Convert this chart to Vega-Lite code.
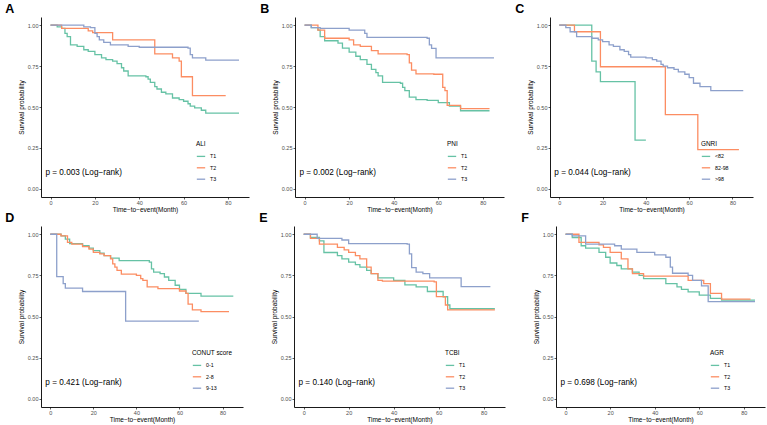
{
  "$schema": "https://vega.github.io/schema/vega-lite/v6.json",
  "description": "Kaplan-Meier curves for six nutrition scores, panels A to F.",
  "padding": {"left": 5, "top": 2, "right": 2, "bottom": 2},
  "data": {
    "values": [
      {"p": "A", "g": "T1", "t": 0, "s": 1}, {"p": "A", "g": "T1", "t": 3, "s": 0.99}, {"p": "A", "g": "T1", "t": 5, "s": 0.98}, {"p": "A", "g": "T1", "t": 6.5, "s": 0.95},
      {"p": "A", "g": "T1", "t": 7.5, "s": 0.93}, {"p": "A", "g": "T1", "t": 9, "s": 0.88}, {"p": "A", "g": "T1", "t": 12, "s": 0.87}, {"p": "A", "g": "T1", "t": 15, "s": 0.85},
      {"p": "A", "g": "T1", "t": 17, "s": 0.84}, {"p": "A", "g": "T1", "t": 20, "s": 0.82}, {"p": "A", "g": "T1", "t": 23, "s": 0.8}, {"p": "A", "g": "T1", "t": 25, "s": 0.79},
      {"p": "A", "g": "T1", "t": 28, "s": 0.78}, {"p": "A", "g": "T1", "t": 30, "s": 0.765}, {"p": "A", "g": "T1", "t": 32, "s": 0.74}, {"p": "A", "g": "T1", "t": 33, "s": 0.72},
      {"p": "A", "g": "T1", "t": 35, "s": 0.69}, {"p": "A", "g": "T1", "t": 43, "s": 0.685}, {"p": "A", "g": "T1", "t": 44, "s": 0.67}, {"p": "A", "g": "T1", "t": 45, "s": 0.65},
      {"p": "A", "g": "T1", "t": 47, "s": 0.625}, {"p": "A", "g": "T1", "t": 48, "s": 0.61}, {"p": "A", "g": "T1", "t": 50, "s": 0.59}, {"p": "A", "g": "T1", "t": 52, "s": 0.58},
      {"p": "A", "g": "T1", "t": 55, "s": 0.555}, {"p": "A", "g": "T1", "t": 58, "s": 0.545}, {"p": "A", "g": "T1", "t": 60, "s": 0.535}, {"p": "A", "g": "T1", "t": 62, "s": 0.52},
      {"p": "A", "g": "T1", "t": 63, "s": 0.505}, {"p": "A", "g": "T1", "t": 65, "s": 0.495}, {"p": "A", "g": "T1", "t": 68, "s": 0.48}, {"p": "A", "g": "T1", "t": 70, "s": 0.463},
      {"p": "A", "g": "T1", "t": 85, "s": 0.463},
      {"p": "A", "g": "T2", "t": 0, "s": 1}, {"p": "A", "g": "T2", "t": 5, "s": 0.98}, {"p": "A", "g": "T2", "t": 17, "s": 0.965}, {"p": "A", "g": "T2", "t": 19, "s": 0.955},
      {"p": "A", "g": "T2", "t": 28, "s": 0.91}, {"p": "A", "g": "T2", "t": 47, "s": 0.825}, {"p": "A", "g": "T2", "t": 55, "s": 0.8}, {"p": "A", "g": "T2", "t": 58, "s": 0.78},
      {"p": "A", "g": "T2", "t": 59, "s": 0.685}, {"p": "A", "g": "T2", "t": 64, "s": 0.57}, {"p": "A", "g": "T2", "t": 79, "s": 0.57},
      {"p": "A", "g": "T3", "t": 0, "s": 1}, {"p": "A", "g": "T3", "t": 15, "s": 0.99}, {"p": "A", "g": "T3", "t": 18, "s": 0.985}, {"p": "A", "g": "T3", "t": 20, "s": 0.95},
      {"p": "A", "g": "T3", "t": 21, "s": 0.93}, {"p": "A", "g": "T3", "t": 22, "s": 0.91}, {"p": "A", "g": "T3", "t": 24, "s": 0.895}, {"p": "A", "g": "T3", "t": 27, "s": 0.88},
      {"p": "A", "g": "T3", "t": 35, "s": 0.87}, {"p": "A", "g": "T3", "t": 40, "s": 0.865}, {"p": "A", "g": "T3", "t": 62, "s": 0.86}, {"p": "A", "g": "T3", "t": 63, "s": 0.82},
      {"p": "A", "g": "T3", "t": 64, "s": 0.8}, {"p": "A", "g": "T3", "t": 70, "s": 0.787}, {"p": "A", "g": "T3", "t": 85, "s": 0.787},

      {"p": "B", "g": "T1", "t": 0, "s": 1}, {"p": "B", "g": "T1", "t": 3, "s": 0.985}, {"p": "B", "g": "T1", "t": 6, "s": 0.97}, {"p": "B", "g": "T1", "t": 7, "s": 0.93},
      {"p": "B", "g": "T1", "t": 9, "s": 0.905}, {"p": "B", "g": "T1", "t": 15, "s": 0.89}, {"p": "B", "g": "T1", "t": 17, "s": 0.86}, {"p": "B", "g": "T1", "t": 20, "s": 0.835},
      {"p": "B", "g": "T1", "t": 23, "s": 0.81}, {"p": "B", "g": "T1", "t": 25, "s": 0.79}, {"p": "B", "g": "T1", "t": 28, "s": 0.76}, {"p": "B", "g": "T1", "t": 30, "s": 0.73},
      {"p": "B", "g": "T1", "t": 32, "s": 0.71}, {"p": "B", "g": "T1", "t": 33, "s": 0.69}, {"p": "B", "g": "T1", "t": 35, "s": 0.65}, {"p": "B", "g": "T1", "t": 43, "s": 0.645},
      {"p": "B", "g": "T1", "t": 44, "s": 0.62}, {"p": "B", "g": "T1", "t": 45, "s": 0.6}, {"p": "B", "g": "T1", "t": 47, "s": 0.56}, {"p": "B", "g": "T1", "t": 50, "s": 0.545},
      {"p": "B", "g": "T1", "t": 55, "s": 0.54}, {"p": "B", "g": "T1", "t": 60, "s": 0.527}, {"p": "B", "g": "T1", "t": 65, "s": 0.505}, {"p": "B", "g": "T1", "t": 70, "s": 0.477},
      {"p": "B", "g": "T1", "t": 83, "s": 0.477},
      {"p": "B", "g": "T2", "t": 0, "s": 1}, {"p": "B", "g": "T2", "t": 6, "s": 0.97}, {"p": "B", "g": "T2", "t": 9, "s": 0.92}, {"p": "B", "g": "T2", "t": 20, "s": 0.91},
      {"p": "B", "g": "T2", "t": 22, "s": 0.88}, {"p": "B", "g": "T2", "t": 25, "s": 0.87}, {"p": "B", "g": "T2", "t": 30, "s": 0.845}, {"p": "B", "g": "T2", "t": 33, "s": 0.825},
      {"p": "B", "g": "T2", "t": 46, "s": 0.82}, {"p": "B", "g": "T2", "t": 47, "s": 0.77}, {"p": "B", "g": "T2", "t": 48, "s": 0.725}, {"p": "B", "g": "T2", "t": 50, "s": 0.703},
      {"p": "B", "g": "T2", "t": 58, "s": 0.7}, {"p": "B", "g": "T2", "t": 62, "s": 0.62}, {"p": "B", "g": "T2", "t": 63, "s": 0.6}, {"p": "B", "g": "T2", "t": 64, "s": 0.51},
      {"p": "B", "g": "T2", "t": 70, "s": 0.49}, {"p": "B", "g": "T2", "t": 83, "s": 0.49},
      {"p": "B", "g": "T3", "t": 0, "s": 1}, {"p": "B", "g": "T3", "t": 3, "s": 0.985}, {"p": "B", "g": "T3", "t": 7, "s": 0.98}, {"p": "B", "g": "T3", "t": 20, "s": 0.97},
      {"p": "B", "g": "T3", "t": 27, "s": 0.95}, {"p": "B", "g": "T3", "t": 28, "s": 0.925}, {"p": "B", "g": "T3", "t": 55, "s": 0.92}, {"p": "B", "g": "T3", "t": 56, "s": 0.88},
      {"p": "B", "g": "T3", "t": 57, "s": 0.858}, {"p": "B", "g": "T3", "t": 59, "s": 0.8}, {"p": "B", "g": "T3", "t": 85, "s": 0.8},

      {"p": "C", "g": "<82", "t": 0, "s": 1}, {"p": "C", "g": "<82", "t": 15, "s": 0.78}, {"p": "C", "g": "<82", "t": 17, "s": 0.715}, {"p": "C", "g": "<82", "t": 19, "s": 0.655},
      {"p": "C", "g": "<82", "t": 35, "s": 0.298}, {"p": "C", "g": "<82", "t": 40, "s": 0.298},
      {"p": "C", "g": "82-98", "t": 0, "s": 1}, {"p": "C", "g": "82-98", "t": 7, "s": 0.96}, {"p": "C", "g": "82-98", "t": 19, "s": 0.746}, {"p": "C", "g": "82-98", "t": 49, "s": 0.454},
      {"p": "C", "g": "82-98", "t": 64, "s": 0.24}, {"p": "C", "g": "82-98", "t": 83, "s": 0.24},
      {"p": "C", "g": ">98", "t": 0, "s": 1}, {"p": "C", "g": ">98", "t": 3, "s": 0.985}, {"p": "C", "g": ">98", "t": 5, "s": 0.96}, {"p": "C", "g": ">98", "t": 8, "s": 0.93},
      {"p": "C", "g": ">98", "t": 15, "s": 0.92}, {"p": "C", "g": ">98", "t": 18, "s": 0.91}, {"p": "C", "g": ">98", "t": 20, "s": 0.9}, {"p": "C", "g": ">98", "t": 23, "s": 0.88},
      {"p": "C", "g": ">98", "t": 25, "s": 0.87}, {"p": "C", "g": ">98", "t": 28, "s": 0.85}, {"p": "C", "g": ">98", "t": 30, "s": 0.84}, {"p": "C", "g": ">98", "t": 32, "s": 0.82},
      {"p": "C", "g": ">98", "t": 33, "s": 0.805}, {"p": "C", "g": ">98", "t": 40, "s": 0.8}, {"p": "C", "g": ">98", "t": 43, "s": 0.79}, {"p": "C", "g": ">98", "t": 45, "s": 0.78},
      {"p": "C", "g": ">98", "t": 47, "s": 0.76}, {"p": "C", "g": ">98", "t": 48, "s": 0.75}, {"p": "C", "g": ">98", "t": 50, "s": 0.74}, {"p": "C", "g": ">98", "t": 53, "s": 0.73},
      {"p": "C", "g": ">98", "t": 55, "s": 0.715}, {"p": "C", "g": ">98", "t": 58, "s": 0.7}, {"p": "C", "g": ">98", "t": 60, "s": 0.68}, {"p": "C", "g": ">98", "t": 62, "s": 0.645},
      {"p": "C", "g": ">98", "t": 65, "s": 0.625}, {"p": "C", "g": ">98", "t": 70, "s": 0.6}, {"p": "C", "g": ">98", "t": 85, "s": 0.6},

      {"p": "D", "g": "0-1", "t": 0, "s": 1}, {"p": "D", "g": "0-1", "t": 5, "s": 0.99}, {"p": "D", "g": "0-1", "t": 7, "s": 0.97}, {"p": "D", "g": "0-1", "t": 9, "s": 0.943},
      {"p": "D", "g": "0-1", "t": 15, "s": 0.93}, {"p": "D", "g": "0-1", "t": 18, "s": 0.915}, {"p": "D", "g": "0-1", "t": 20, "s": 0.9}, {"p": "D", "g": "0-1", "t": 23, "s": 0.885},
      {"p": "D", "g": "0-1", "t": 25, "s": 0.87}, {"p": "D", "g": "0-1", "t": 28, "s": 0.855}, {"p": "D", "g": "0-1", "t": 32, "s": 0.84}, {"p": "D", "g": "0-1", "t": 46, "s": 0.83},
      {"p": "D", "g": "0-1", "t": 47, "s": 0.79}, {"p": "D", "g": "0-1", "t": 48, "s": 0.77}, {"p": "D", "g": "0-1", "t": 51, "s": 0.76}, {"p": "D", "g": "0-1", "t": 53, "s": 0.74},
      {"p": "D", "g": "0-1", "t": 55, "s": 0.72}, {"p": "D", "g": "0-1", "t": 58, "s": 0.69}, {"p": "D", "g": "0-1", "t": 60, "s": 0.665}, {"p": "D", "g": "0-1", "t": 63, "s": 0.64},
      {"p": "D", "g": "0-1", "t": 70, "s": 0.624}, {"p": "D", "g": "0-1", "t": 85, "s": 0.624},
      {"p": "D", "g": "2-8", "t": 0, "s": 1}, {"p": "D", "g": "2-8", "t": 5, "s": 0.99}, {"p": "D", "g": "2-8", "t": 8, "s": 0.95}, {"p": "D", "g": "2-8", "t": 10, "s": 0.94},
      {"p": "D", "g": "2-8", "t": 15, "s": 0.925}, {"p": "D", "g": "2-8", "t": 18, "s": 0.91}, {"p": "D", "g": "2-8", "t": 20, "s": 0.89}, {"p": "D", "g": "2-8", "t": 23, "s": 0.88},
      {"p": "D", "g": "2-8", "t": 25, "s": 0.87}, {"p": "D", "g": "2-8", "t": 28, "s": 0.85}, {"p": "D", "g": "2-8", "t": 29, "s": 0.82}, {"p": "D", "g": "2-8", "t": 30, "s": 0.8},
      {"p": "D", "g": "2-8", "t": 31, "s": 0.78}, {"p": "D", "g": "2-8", "t": 33, "s": 0.758}, {"p": "D", "g": "2-8", "t": 40, "s": 0.75}, {"p": "D", "g": "2-8", "t": 42, "s": 0.73},
      {"p": "D", "g": "2-8", "t": 43, "s": 0.72}, {"p": "D", "g": "2-8", "t": 45, "s": 0.68}, {"p": "D", "g": "2-8", "t": 50, "s": 0.67}, {"p": "D", "g": "2-8", "t": 60, "s": 0.655},
      {"p": "D", "g": "2-8", "t": 63, "s": 0.64}, {"p": "D", "g": "2-8", "t": 64, "s": 0.575}, {"p": "D", "g": "2-8", "t": 66, "s": 0.54}, {"p": "D", "g": "2-8", "t": 70, "s": 0.53},
      {"p": "D", "g": "2-8", "t": 83, "s": 0.53},
      {"p": "D", "g": "9-13", "t": 0, "s": 1}, {"p": "D", "g": "9-13", "t": 3, "s": 0.742}, {"p": "D", "g": "9-13", "t": 6, "s": 0.7}, {"p": "D", "g": "9-13", "t": 7, "s": 0.673},
      {"p": "D", "g": "9-13", "t": 15, "s": 0.652}, {"p": "D", "g": "9-13", "t": 35, "s": 0.472}, {"p": "D", "g": "9-13", "t": 69, "s": 0.472},

      {"p": "E", "g": "T1", "t": 0, "s": 1}, {"p": "E", "g": "T1", "t": 3, "s": 0.98}, {"p": "E", "g": "T1", "t": 7, "s": 0.96}, {"p": "E", "g": "T1", "t": 9, "s": 0.889},
      {"p": "E", "g": "T1", "t": 15, "s": 0.87}, {"p": "E", "g": "T1", "t": 17, "s": 0.85}, {"p": "E", "g": "T1", "t": 20, "s": 0.83}, {"p": "E", "g": "T1", "t": 23, "s": 0.815},
      {"p": "E", "g": "T1", "t": 25, "s": 0.8}, {"p": "E", "g": "T1", "t": 28, "s": 0.78}, {"p": "E", "g": "T1", "t": 30, "s": 0.76}, {"p": "E", "g": "T1", "t": 33, "s": 0.735},
      {"p": "E", "g": "T1", "t": 40, "s": 0.72}, {"p": "E", "g": "T1", "t": 45, "s": 0.692}, {"p": "E", "g": "T1", "t": 50, "s": 0.68}, {"p": "E", "g": "T1", "t": 55, "s": 0.652},
      {"p": "E", "g": "T1", "t": 62, "s": 0.62}, {"p": "E", "g": "T1", "t": 64, "s": 0.57}, {"p": "E", "g": "T1", "t": 65, "s": 0.547}, {"p": "E", "g": "T1", "t": 85, "s": 0.547},
      {"p": "E", "g": "T2", "t": 0, "s": 1}, {"p": "E", "g": "T2", "t": 3, "s": 0.975}, {"p": "E", "g": "T2", "t": 7, "s": 0.94}, {"p": "E", "g": "T2", "t": 15, "s": 0.92},
      {"p": "E", "g": "T2", "t": 18, "s": 0.905}, {"p": "E", "g": "T2", "t": 20, "s": 0.89}, {"p": "E", "g": "T2", "t": 23, "s": 0.87}, {"p": "E", "g": "T2", "t": 25, "s": 0.85},
      {"p": "E", "g": "T2", "t": 28, "s": 0.8}, {"p": "E", "g": "T2", "t": 30, "s": 0.76}, {"p": "E", "g": "T2", "t": 33, "s": 0.72}, {"p": "E", "g": "T2", "t": 35, "s": 0.715},
      {"p": "E", "g": "T2", "t": 58, "s": 0.71}, {"p": "E", "g": "T2", "t": 59, "s": 0.621}, {"p": "E", "g": "T2", "t": 63, "s": 0.57}, {"p": "E", "g": "T2", "t": 64, "s": 0.54},
      {"p": "E", "g": "T2", "t": 85, "s": 0.54},
      {"p": "E", "g": "T3", "t": 0, "s": 1}, {"p": "E", "g": "T3", "t": 6, "s": 0.975}, {"p": "E", "g": "T3", "t": 17, "s": 0.965}, {"p": "E", "g": "T3", "t": 20, "s": 0.943},
      {"p": "E", "g": "T3", "t": 46, "s": 0.94}, {"p": "E", "g": "T3", "t": 47, "s": 0.88}, {"p": "E", "g": "T3", "t": 48, "s": 0.797}, {"p": "E", "g": "T3", "t": 50, "s": 0.77},
      {"p": "E", "g": "T3", "t": 53, "s": 0.76}, {"p": "E", "g": "T3", "t": 56, "s": 0.735}, {"p": "E", "g": "T3", "t": 70, "s": 0.682}, {"p": "E", "g": "T3", "t": 83, "s": 0.682},

      {"p": "F", "g": "T1", "t": 0, "s": 1}, {"p": "F", "g": "T1", "t": 3, "s": 0.98}, {"p": "F", "g": "T1", "t": 7, "s": 0.93}, {"p": "F", "g": "T1", "t": 9, "s": 0.915},
      {"p": "F", "g": "T1", "t": 15, "s": 0.89}, {"p": "F", "g": "T1", "t": 18, "s": 0.86}, {"p": "F", "g": "T1", "t": 20, "s": 0.825}, {"p": "F", "g": "T1", "t": 23, "s": 0.81},
      {"p": "F", "g": "T1", "t": 25, "s": 0.79}, {"p": "F", "g": "T1", "t": 30, "s": 0.77}, {"p": "F", "g": "T1", "t": 33, "s": 0.75}, {"p": "F", "g": "T1", "t": 35, "s": 0.73},
      {"p": "F", "g": "T1", "t": 45, "s": 0.7}, {"p": "F", "g": "T1", "t": 50, "s": 0.68}, {"p": "F", "g": "T1", "t": 52, "s": 0.665}, {"p": "F", "g": "T1", "t": 55, "s": 0.65},
      {"p": "F", "g": "T1", "t": 60, "s": 0.63}, {"p": "F", "g": "T1", "t": 65, "s": 0.61}, {"p": "F", "g": "T1", "t": 70, "s": 0.6}, {"p": "F", "g": "T1", "t": 85, "s": 0.6},
      {"p": "F", "g": "T2", "t": 0, "s": 1}, {"p": "F", "g": "T2", "t": 6, "s": 0.95}, {"p": "F", "g": "T2", "t": 15, "s": 0.935}, {"p": "F", "g": "T2", "t": 17, "s": 0.92},
      {"p": "F", "g": "T2", "t": 20, "s": 0.89}, {"p": "F", "g": "T2", "t": 25, "s": 0.85}, {"p": "F", "g": "T2", "t": 28, "s": 0.79}, {"p": "F", "g": "T2", "t": 30, "s": 0.76},
      {"p": "F", "g": "T2", "t": 35, "s": 0.745}, {"p": "F", "g": "T2", "t": 55, "s": 0.72}, {"p": "F", "g": "T2", "t": 62, "s": 0.7}, {"p": "F", "g": "T2", "t": 65, "s": 0.64},
      {"p": "F", "g": "T2", "t": 70, "s": 0.605}, {"p": "F", "g": "T2", "t": 83, "s": 0.605},
      {"p": "F", "g": "T3", "t": 0, "s": 1}, {"p": "F", "g": "T3", "t": 3, "s": 0.99}, {"p": "F", "g": "T3", "t": 9, "s": 0.94}, {"p": "F", "g": "T3", "t": 22, "s": 0.93},
      {"p": "F", "g": "T3", "t": 25, "s": 0.91}, {"p": "F", "g": "T3", "t": 32, "s": 0.89}, {"p": "F", "g": "T3", "t": 40, "s": 0.875}, {"p": "F", "g": "T3", "t": 45, "s": 0.86},
      {"p": "F", "g": "T3", "t": 47, "s": 0.8}, {"p": "F", "g": "T3", "t": 48, "s": 0.763}, {"p": "F", "g": "T3", "t": 55, "s": 0.75}, {"p": "F", "g": "T3", "t": 57, "s": 0.72},
      {"p": "F", "g": "T3", "t": 61, "s": 0.686}, {"p": "F", "g": "T3", "t": 64, "s": 0.59}, {"p": "F", "g": "T3", "t": 85, "s": 0.59}
    ]
  },
  "spacing": -2,
  "resolve": {"scale": {"color": "independent"}, "legend": {"color": "independent"}},
  "vconcat": [
    {
      "bounds": "flush",
      "spacing": 46,
      "resolve": {"scale": {"color": "independent"}, "legend": {"color": "independent"}},
      "hconcat": [
        {
          "width": 208, "height": 180,
          "title": {"text": "A", "dx": -13},
          "transform": [{"filter": "datum.p == 'A'"}],
          "layer": [
            {
              "mark": {"type": "line", "interpolate": "step-after", "strokeWidth": 1.3},
              "encoding": {
                "x": {"field": "t", "type": "quantitative", "scale": {"domain": [-4.3, 89.5], "nice": false, "zero": false}, "axis": {"values": [0, 10, 20, 30, 40, 50, 60, 70, 80], "title": "Time−to−event(Month)"}},
                "y": {"field": "s", "type": "quantitative", "scale": {"domain": [-0.05, 1.05], "nice": false}, "axis": {"values": [0, 0.25, 0.5, 0.75, 1], "format": ".2f", "title": "Survival probability"}},
                "color": {"field": "g", "type": "nominal", "scale": {"domain": ["T1", "T2", "T3"], "range": ["#66C2A5", "#FC8D62", "#8DA0CB"]}, "legend": {"title": "ALI", "orient": "none", "legendX": 155, "legendY": 124}}
              }
            },
            {
              "data": {"values": [{}]},
              "mark": {"type": "text", "text": "p = 0.003 (Log−rank)", "align": "left", "baseline": "middle", "fontSize": 8.2},
              "encoding": {"x": {"datum": -2.3}, "y": {"datum": 0.095}}
            }
          ]
        },
        {
          "width": 209, "height": 180,
          "title": {"text": "B", "dx": -12},
          "transform": [{"filter": "datum.p == 'B'"}],
          "layer": [
            {
              "mark": {"type": "line", "interpolate": "step-after", "strokeWidth": 1.3},
              "encoding": {
                "x": {"field": "t", "type": "quantitative", "scale": {"domain": [-4.3, 89.5], "nice": false, "zero": false}, "axis": {"values": [0, 10, 20, 30, 40, 50, 60, 70, 80], "title": "Time−to−event(Month)"}},
                "y": {"field": "s", "type": "quantitative", "scale": {"domain": [-0.05, 1.05], "nice": false}, "axis": {"values": [0, 0.25, 0.5, 0.75, 1], "format": ".2f", "title": "Survival probability"}},
                "color": {"field": "g", "type": "nominal", "scale": {"domain": ["T1", "T2", "T3"], "range": ["#66C2A5", "#FC8D62", "#8DA0CB"]}, "legend": {"title": "PNI", "orient": "none", "legendX": 152, "legendY": 124}}
              }
            },
            {
              "data": {"values": [{}]},
              "mark": {"type": "text", "text": "p = 0.002 (Log−rank)", "align": "left", "baseline": "middle", "fontSize": 8.2},
              "encoding": {"x": {"datum": -2.3}, "y": {"datum": 0.095}}
            }
          ]
        },
        {
          "width": 203, "height": 180,
          "title": {"text": "C", "dx": -12},
          "transform": [{"filter": "datum.p == 'C'"}],
          "layer": [
            {
              "mark": {"type": "line", "interpolate": "step-after", "strokeWidth": 1.3},
              "encoding": {
                "x": {"field": "t", "type": "quantitative", "scale": {"domain": [-4.3, 89.5], "nice": false, "zero": false}, "axis": {"values": [0, 10, 20, 30, 40, 50, 60, 70, 80], "title": "Time−to−event(Month)"}},
                "y": {"field": "s", "type": "quantitative", "scale": {"domain": [-0.05, 1.05], "nice": false}, "axis": {"values": [0, 0.25, 0.5, 0.75, 1], "format": ".2f", "title": "Survival probability"}},
                "color": {"field": "g", "type": "nominal", "scale": {"domain": ["<82", "82-98", ">98"], "range": ["#66C2A5", "#FC8D62", "#8DA0CB"]}, "legend": {"title": "GNRI", "orient": "none", "legendX": 151, "legendY": 124}}
              }
            },
            {
              "data": {"values": [{}]},
              "mark": {"type": "text", "text": "p = 0.044 (Log−rank)", "align": "left", "baseline": "middle", "fontSize": 8.2},
              "encoding": {"x": {"datum": -2.3}, "y": {"datum": 0.095}}
            }
          ]
        }
      ]
    },
    {
      "bounds": "flush",
      "spacing": 51,
      "resolve": {"scale": {"color": "independent"}, "legend": {"color": "independent"}},
      "hconcat": [
        {
          "width": 202, "height": 181,
          "title": {"text": "D", "dx": -13},
          "transform": [{"filter": "datum.p == 'D'"}],
          "layer": [
            {
              "mark": {"type": "line", "interpolate": "step-after", "strokeWidth": 1.3},
              "encoding": {
                "x": {"field": "t", "type": "quantitative", "scale": {"domain": [-4.3, 89.5], "nice": false, "zero": false}, "axis": {"values": [0, 10, 20, 30, 40, 50, 60, 70, 80], "title": "Time−to−event(Month)"}},
                "y": {"field": "s", "type": "quantitative", "scale": {"domain": [-0.05, 1.05], "nice": false}, "axis": {"values": [0, 0.25, 0.5, 0.75, 1], "format": ".2f", "title": "Survival probability"}},
                "color": {"field": "g", "type": "nominal", "scale": {"domain": ["0-1", "2-8", "9-13"], "range": ["#66C2A5", "#FC8D62", "#8DA0CB"]}, "legend": {"title": "CONUT score", "orient": "none", "legendX": 151, "legendY": 124}}
              }
            },
            {
              "data": {"values": [{}]},
              "mark": {"type": "text", "text": "p = 0.421 (Log−rank)", "align": "left", "baseline": "middle", "fontSize": 8.2},
              "encoding": {"x": {"datum": -2.3}, "y": {"datum": 0.095}}
            }
          ]
        },
        {
          "width": 211, "height": 181,
          "title": {"text": "E", "dx": -12},
          "transform": [{"filter": "datum.p == 'E'"}],
          "layer": [
            {
              "mark": {"type": "line", "interpolate": "step-after", "strokeWidth": 1.3},
              "encoding": {
                "x": {"field": "t", "type": "quantitative", "scale": {"domain": [-4.3, 89.5], "nice": false, "zero": false}, "axis": {"values": [0, 10, 20, 30, 40, 50, 60, 70, 80], "title": "Time−to−event(Month)"}},
                "y": {"field": "s", "type": "quantitative", "scale": {"domain": [-0.05, 1.05], "nice": false}, "axis": {"values": [0, 0.25, 0.5, 0.75, 1], "format": ".2f", "title": "Survival probability"}},
                "color": {"field": "g", "type": "nominal", "scale": {"domain": ["T1", "T2", "T3"], "range": ["#66C2A5", "#FC8D62", "#8DA0CB"]}, "legend": {"title": "TCBI", "orient": "none", "legendX": 151, "legendY": 124}}
              }
            },
            {
              "data": {"values": [{}]},
              "mark": {"type": "text", "text": "p = 0.140 (Log−rank)", "align": "left", "baseline": "middle", "fontSize": 8.2},
              "encoding": {"x": {"datum": -2.3}, "y": {"datum": 0.095}}
            }
          ]
        },
        {
          "width": 209, "height": 181,
          "title": {"text": "F", "dx": -12},
          "transform": [{"filter": "datum.p == 'F'"}],
          "layer": [
            {
              "mark": {"type": "line", "interpolate": "step-after", "strokeWidth": 1.3},
              "encoding": {
                "x": {"field": "t", "type": "quantitative", "scale": {"domain": [-4.3, 89.5], "nice": false, "zero": false}, "axis": {"values": [0, 10, 20, 30, 40, 50, 60, 70, 80], "title": "Time−to−event(Month)"}},
                "y": {"field": "s", "type": "quantitative", "scale": {"domain": [-0.05, 1.05], "nice": false}, "axis": {"values": [0, 0.25, 0.5, 0.75, 1], "format": ".2f", "title": "Survival probability"}},
                "color": {"field": "g", "type": "nominal", "scale": {"domain": ["T1", "T2", "T3"], "range": ["#66C2A5", "#FC8D62", "#8DA0CB"]}, "legend": {"title": "AGR", "orient": "none", "legendX": 154, "legendY": 124}}
              }
            },
            {
              "data": {"values": [{}]},
              "mark": {"type": "text", "text": "p = 0.698 (Log−rank)", "align": "left", "baseline": "middle", "fontSize": 8.2},
              "encoding": {"x": {"datum": -2.3}, "y": {"datum": 0.095}}
            }
          ]
        }
      ]
    }
  ],
  "config": {
    "font": "Liberation Sans",
    "background": "white",
    "view": {"stroke": null},
    "axis": {
      "grid": false,
      "domainColor": "#000000",
      "domainWidth": 0.9,
      "tickColor": "#333333",
      "tickSize": 2,
      "tickWidth": 0.8,
      "labelFontSize": 5.5,
      "labelColor": "#4D4D4D",
      "labelPadding": 1,
      "titleFontSize": 6.5,
      "titleFontWeight": "normal",
      "titleColor": "#000000",
      "titlePadding": 1
    },
    "axisY": {"titlePadding": 3},
    "legend": {
      "symbolType": "stroke",
      "symbolSize": 70,
      "symbolStrokeWidth": 1.3,
      "labelFontSize": 5.3,
      "labelColor": "#000000",
      "titleFontSize": 6.4,
      "titleFontWeight": "normal",
      "titleColor": "#000000",
      "rowPadding": 2.4,
      "padding": 0,
      "titlePadding": 4
    },
    "title": {"anchor": "start", "frame": "bounds", "fontSize": 12.5, "fontWeight": "bold", "offset": 2, "color": "#000000"}
  }
}
